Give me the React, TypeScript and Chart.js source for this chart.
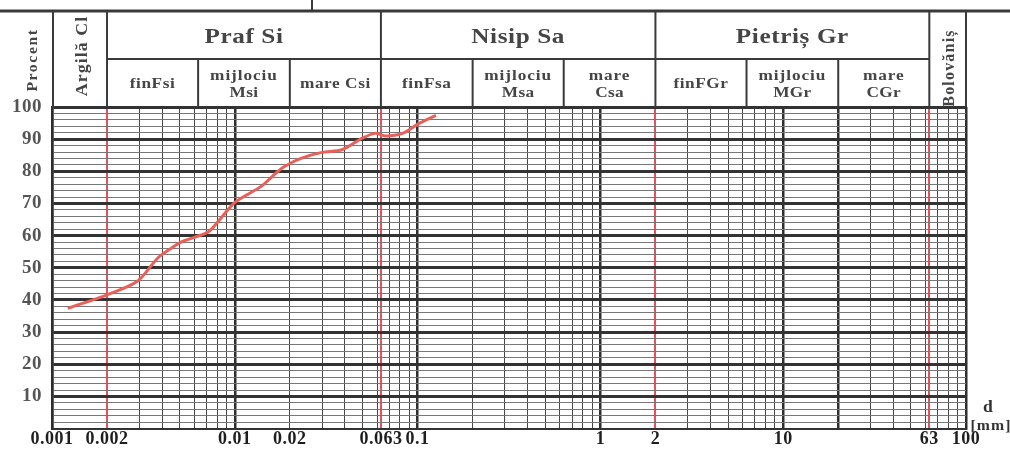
import React, { useEffect, useRef } from 'react';
import { Chart, registerables } from 'chart.js';

Chart.register(...registerables);

// grain-size distribution curve (diameter in mm, percent finer)
const diameterMm = [0.00122, 0.002, 0.00293, 0.00377, 0.00447, 0.00518, 0.00712, 0.00808, 0.01, 0.014, 0.0166, 0.0188, 0.0232, 0.03, 0.0386, 0.0498, 0.0585, 0.0669, 0.0826, 0.102, 0.126];
const percentFiner = [37.4, 41.6, 45.8, 52.9, 56, 58.2, 61.1, 64.3, 70.3, 75.4, 79.2, 81.6, 84.1, 85.9, 86.7, 90.3, 91.8, 91.0, 91.8, 94.9, 97.4];

// axis labels
const xLabelValues = [0.001, 0.002, 0.01, 0.02, 0.063, 0.1, 1, 2, 10, 63, 100];
const yLabelValues = [10, 20, 30, 40, 50, 60, 70, 80, 90, 100];

// fraction boundaries
const fractionBounds = [0.002, 0.063, 2, 63];
const subBounds = [0.002, 0.0063, 0.02, 0.063, 0.2, 0.63, 2, 6.3, 20, 63];
const thickVertical = [0.001, 0.01, 0.1, 1, 10, 20, 100];

const groupNames = ['Praf Si', 'Nisip Sa', 'Pietriș Gr'];
const subNames = [
  ['finFsi'], ['mijlociu', 'Msi'], ['mare Csi'],
  ['finFsa'], ['mijlociu', 'Msa'], ['mare', 'Csa'],
  ['finFGr'], ['mijlociu', 'MGr'], ['mare', 'CGr'],
];

const SERIF = '"Liberation Serif", "DejaVu Serif", serif';

const same = (a: number, b: number) => Math.abs(Math.log10(a) - Math.log10(b)) < 1e-6;

function buildXTicks() {
  const out: number[] = [];
  for (let e = -3; e <= 1; e++) {
    for (let m = 1; m <= 9; m++) out.push(Number((m * Math.pow(10, e)).toPrecision(6)));
  }
  out.push(100);
  fractionBounds.forEach((b) => { if (!out.some((v) => same(v, b))) out.push(b); });
  return out.sort((a, b) => a - b);
}

function buildYTicks() {
  const out: number[] = [];
  for (let v = 0; v <= 100; v += 2) out.push(v);
  return out;
}

const headerPlugin = {
  id: 'gradHeader',
  beforeDraw(chart: any) {
    const { ctx } = chart;
    ctx.save();
    ctx.fillStyle = '#ffffff';
    ctx.fillRect(0, 0, chart.width, chart.height);
    ctx.restore();
    (ctx as any).letterSpacing = '0.5px';
  },
  afterDraw(chart: any) {
    const { ctx, chartArea } = chart;
    const xs = chart.scales.x;
    const px = (v: number) => xs.getPixelForValue(v);
    const top = 11;
    const mid = 59;
    const bot = chartArea.top;
    const line = (x1: number, y1: number, x2: number, y2: number) => {
      ctx.beginPath();
      ctx.moveTo(x1, y1);
      ctx.lineTo(x2, y2);
      ctx.stroke();
    };
    ctx.save();
    ctx.strokeStyle = '#3a3a3a';
    ctx.lineWidth = 3;
    line(0, top, chart.width, top);
    ctx.lineWidth = 2;
    line(312, 0, 312, top);
    line(chartArea.left + 1, top, chartArea.left + 1, bot);
    line(chartArea.right, top, chartArea.right, bot);
    fractionBounds.forEach((b) => line(px(b), top, px(b), bot));
    line(px(0.002), mid, px(63), mid);
    subBounds.forEach((b) => {
      if (!fractionBounds.some((f) => same(f, b))) line(px(b), mid, px(b), bot);
    });

    ctx.fillStyle = '#454545';
    ctx.textAlign = 'center';
    ctx.textBaseline = 'middle';

    const text = (t: string, cx: number, cy: number, font: string, spacing: string, sx: number, rot = 0) => {
      ctx.save();
      ctx.translate(cx, cy);
      if (rot) ctx.rotate(rot);
      ctx.scale(sx, 1);
      ctx.font = font;
      (ctx as any).letterSpacing = spacing;
      ctx.fillText(t, 0, 0);
      ctx.restore();
    };

    // group titles
    const groupEdges = [0.002, 0.063, 2, 63];
    groupNames.forEach((name, i) => {
      const cx = (px(groupEdges[i]) + px(groupEdges[i + 1])) / 2;
      text(name, cx, (top + mid) / 2 + 3, `bold 21px ${SERIF}`, '0.5px', 1.2);
    });

    // sub titles
    subNames.forEach((lines, i) => {
      const cx = (px(subBounds[i]) + px(subBounds[i + 1])) / 2;
      const cy = (mid + bot) / 2 + 1;
      const f = `bold 15px ${SERIF}`;
      if (lines.length === 1) text(lines[0], cx, cy, f, '0.5px', 1.15);
      else {
        text(lines[0], cx, cy - 8, f, '0.8px', 1.15);
        text(lines[1], cx, cy + 9, f, '0.3px', 1.15);
      }
    });

    // rotated titles
    text('Procent', 33, 60, `bold 15px ${SERIF}`, '1.5px', 1.05, -Math.PI / 2);
    text('Argilă Cl', (px(0.001) + px(0.002)) / 2 + 3, 56, `bold 17px ${SERIF}`, '1px', 1.05, -Math.PI / 2);
    text('Bolovăniș', (px(63) + px(100)) / 2 + 2, 68, `bold 16px ${SERIF}`, '1.2px', 1.0, -Math.PI / 2);

    // unit label
    ctx.fillStyle = '#333333';
    text('d', 988, 408, `bold 16px ${SERIF}`, '0px', 1.1);
    text('[mm]', 991, 426, `bold 15px ${SERIF}`, '1px', 1.05);
    ctx.restore();
  },
};

export default function App() {
  const ref = useRef<HTMLCanvasElement | null>(null);

  useEffect(() => {
    if (!ref.current) return;
    const chart = new Chart(ref.current, {
      type: 'line',
      data: {
        datasets: [
          {
            data: diameterMm.map((d, i) => ({ x: d, y: percentFiner[i] })),
            borderColor: 'rgb(232, 96, 88)',
            borderWidth: 3,
            tension: 0.3,
            pointRadius: 0,
            fill: false,
          },
        ],
      },
      options: {
        animation: false,
        responsive: false,
        layout: { padding: { top: 107, right: 44, left: 0, bottom: 0 } },
        plugins: { legend: { display: false }, tooltip: { enabled: false } },
        scales: {
          x: {
            type: 'logarithmic',
            min: 0.001,
            max: 100,
            afterBuildTicks: (scale: any) => {
              scale.ticks = buildXTicks().map((v) => ({ value: v, major: false }));
            },
            afterFit: (scale: any) => { scale.height = 18; },
            border: { display: true, color: '#333333', width: 2 },
            grid: {
              drawTicks: false,
              color: (c: any) => {
                const v = c.tick?.value;
                if (v === undefined) return '#444';
                if (fractionBounds.some((b) => same(b, v))) return 'rgb(228, 80, 92)';
                if (thickVertical.some((b) => same(b, v))) return '#2e2e2e';
                return '#474747';
              },
              lineWidth: (c: any) => {
                const v = c.tick?.value;
                if (v === undefined) return 1;
                if (fractionBounds.some((b) => same(b, v))) return 2;
                if (thickVertical.some((b) => same(b, v))) return 2.5;
                return 1;
              },
            },
            ticks: {
              autoSkip: false,
              maxRotation: 0,
              minRotation: 0,
              padding: 0,
              color: '#1e1e1e',
              font: { family: SERIF, weight: 'bold', size: 18 },
              callback: (value: any) => {
                const hit = xLabelValues.find((v) => same(v, Number(value)));
                return hit !== undefined ? String(hit) : '';
              },
            },
          },
          y: {
            type: 'linear',
            min: 0,
            max: 100,
            afterBuildTicks: (scale: any) => {
              scale.ticks = buildYTicks().map((v) => ({ value: v }));
            },
            afterFit: (scale: any) => { scale.width = 52; },
            border: { display: true, color: '#2e2e2e', width: 2.5 },
            grid: {
              drawTicks: false,
              color: (c: any) => (c.tick && c.tick.value % 10 === 0 ? '#333333' : '#777777'),
              lineWidth: (c: any) => (c.tick && c.tick.value % 10 === 0 ? (c.tick.value === 0 ? 2 : 3) : 1),
            },
            ticks: {
              autoSkip: false,
              padding: 10,
              color: '#555555',
              font: { family: SERIF, weight: 'bold', size: 19 },
              callback: (value: any) => (yLabelValues.includes(Number(value)) ? String(value) : ''),
            },
          },
        },
      },
      plugins: [headerPlugin],
    } as any);
    return () => chart.destroy();
  }, []);

  return (
    <div style={{ position: 'absolute', left: 0, top: 0, width: 1010, height: 450, background: '#fff' }}>
      <canvas ref={ref} width={1010} height={450} style={{ display: 'block', width: 1010, height: 450 }} />
    </div>
  );
}
